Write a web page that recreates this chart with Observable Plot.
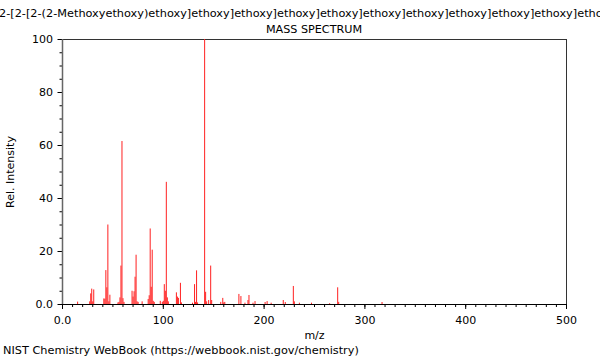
<!DOCTYPE html>
<html><head><meta charset="utf-8">
<script src="https://cdn.jsdelivr.net/npm/d3@7"></script>
<script src="https://cdn.jsdelivr.net/npm/@observablehq/plot@0.6"></script>
<style>
html,body{margin:0;padding:0;background:#fff;}
#wrap{width:600px;height:360px;position:relative;overflow:hidden;font-family:"DejaVu Sans";color:#000;}
#title{position:relative;height:19px;padding-top:4px;line-height:19px;overflow:hidden;white-space:nowrap;font-size:11.3px;}
#title span{position:absolute;top:4px;left:0;}
#sub{height:13px;line-height:13px;font-size:11.2px;padding-left:62px;width:504px;text-align:center;white-space:nowrap;}
#chart svg{display:block;}
#cap{height:18px;line-height:18px;font-size:11.3px;padding-left:3px;white-space:nowrap;}
#measure{position:absolute;visibility:hidden;white-space:nowrap;font-size:11.3px;font-family:"DejaVu Sans";}
</style></head>
<body>
<div id="wrap">
  <div id="title"><span id="tt"></span></div>
  <div id="sub">MASS SPECTRUM</div>
  <div id="chart"></div>
  <div id="cap">NIST Chemistry WebBook (https://webbook.nist.gov/chemistry)</div>
  <span id="measure"></span>
</div>
<script>
// ---- data ----
const mz =        [15, 27, 28, 29, 30, 31, 41, 42, 43, 44, 45, 46, 47, 55, 56, 57, 58, 59, 60, 61,
                   69, 70, 71, 72, 73, 74, 75, 79, 85, 86, 87, 88, 89, 90, 91, 97, 99, 100, 101, 102,
                   103, 104, 105, 113, 114, 115, 117, 118, 129, 131, 132, 133, 134, 141, 142, 143, 145, 147, 148, 157,
                   159, 160, 161, 175, 177, 181, 184, 185, 189, 191, 201, 203, 207, 219, 221, 229, 230, 235, 247, 265,
                   273, 274, 317];
const intensity = [0.9, 1.0, 4.0, 5.8, 1.0, 5.5, 2.1, 2.0, 12.8, 6.3, 30.0, 1.0, 3.5, 0.6, 0.8, 2.5, 14.5, 61.5, 2.2, 0.8,
                   5.0, 2.8, 4.8, 10.3, 18.6, 1.0, 0.8, 1.0, 1.9, 3.3, 28.5, 6.5, 20.5, 1.2, 0.8, 1.2, 0.8, 1.2, 7.5, 5.0,
                   46.1, 2.5, 1.0, 4.4, 2.8, 2.3, 8.0, 0.6, 0.5, 7.5, 0.8, 12.7, 0.6, 100, 4.6, 1.0, 1.5, 14.5, 1.5, 0.8,
                   2.3, 0.6, 0.8, 3.8, 3.0, 0.5, 1.5, 3.4, 0.5, 1.1, 0.75, 1.1, 0.5, 1.5, 0.75, 6.8, 1.0, 0.5, 0.5, 0.3,
                   6.3, 0.8, 0.75];
const xTickValues = [0, 100, 200, 300, 400, 500];
const xTickLabels = ["0.0", "100", "200", "300", "400", "500"];
const yTickValues = [0, 20, 40, 60, 80, 100];
const yTickLabels = ["0.0", "20", "40", "60", "80", "100"];
const xMinorTicks = d3.range(0, 501, 10);
const yMinorTicks = d3.range(0, 101, 5);

// ---- title (long name, clipped) ----
const hiddenPrefix = "2-[".repeat(9);
const visibleName = "2-[2-[2-(2-Methoxyethoxy)" + "ethoxy]".repeat(11) + "ethanol";
const tt = document.getElementById("tt");
tt.textContent = hiddenPrefix + visibleName;
const ms = document.getElementById("measure");
ms.textContent = hiddenPrefix;
tt.style.left = (-ms.getBoundingClientRect().width - 1) + "px";

// ---- chart ----
const peaks = mz.map((m, i) => ({mz: m, rel: intensity[i]}));
const chart = Plot.plot({
  width: 600,
  height: 306,
  marginLeft: 62,
  marginRight: 34,
  marginTop: 3,
  marginBottom: 38,
  style: {fontFamily: "DejaVu Sans", fontSize: "11px", color: "#000", background: "#fff", overflow: "visible"},
  x: {domain: [0, 500]},
  y: {domain: [0, 100]},
  marks: [
    Plot.frame({stroke: "#333"}),
    Plot.ruleX(peaks, {x: "mz", y1: 0, y2: "rel", stroke: "#ff2020", strokeWidth: 1}),
    Plot.axisX(xMinorTicks, {tickSize: 3, tickFormat: () => "", label: null}),
    Plot.axisX(xTickValues, {tickSize: 5, tickPadding: 7,
      tickFormat: d => xTickLabels[xTickValues.indexOf(d)],
      label: "m/z", labelAnchor: "center", labelOffset: 34, labelArrow: "none"}),
    Plot.axisY(yMinorTicks, {tickSize: 2.5, tickFormat: () => "", label: null}),
    Plot.axisY(yTickValues, {tickSize: 4.5, tickPadding: 5,
      tickFormat: d => yTickLabels[yTickValues.indexOf(d)],
      label: "Rel. Intensity", labelAnchor: "center", labelOffset: 56, labelArrow: "none"}),
    Plot.ruleY([0], {stroke: "#000"}),
    Plot.ruleX([0], {stroke: "#666", strokeWidth: 1.5})
  ]
});
document.getElementById("chart").append(chart);
</script>
</body></html>
